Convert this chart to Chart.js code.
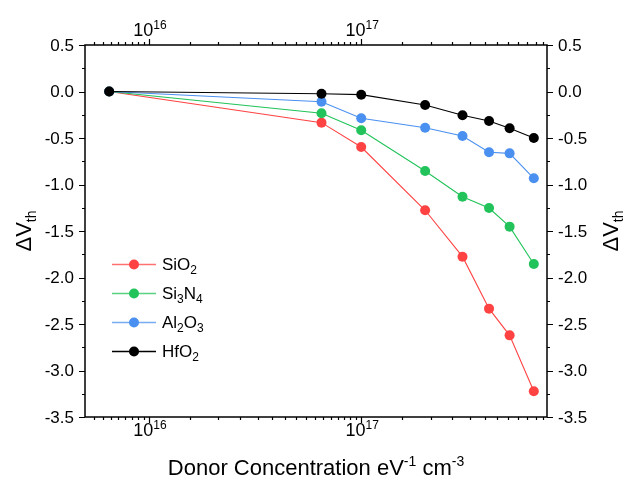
<!DOCTYPE html>
<html>
<head>
<meta charset="utf-8">
<script src="https://cdn.jsdelivr.net/npm/chart.js@4.4.1/dist/chart.umd.min.js"></script>
<style>
  html, body { margin: 0; padding: 0; background: #fff; }
  canvas { display: block; }
</style>
</head>
<body>
<canvas id="chart" width="624" height="480"></canvas>
<script>
// Donor concentration (eV^-1 cm^-3) and threshold-voltage shift per gate dielectric
const donorConc = [6.5e15, 6.5e16, 1e17, 2e17, 3e17, 4e17, 5e17, 6.5e17];
const dVthSiO2  = [0, -0.335, -0.597, -1.277, -1.776, -2.335, -2.622, -3.224];
const dVthSi3N4 = [0, -0.234, -0.417, -0.855, -1.131, -1.253, -1.453, -1.855];
const dVthAl2O3 = [0, -0.110, -0.288, -0.389, -0.478, -0.654, -0.665, -0.933];
const dVthHfO2  = [0, -0.024, -0.034, -0.145, -0.256, -0.317, -0.396, -0.500];

const seriesNames  = ['SiO2', 'Si3N4', 'Al2O3', 'HfO2'];
const seriesColors = ['#ff4343', '#22c35a', '#4a90f0', '#000000'];

const xRange = [5e15, 7.5e17];
const yRange = [-3.5, 0.5];
const xMajorTicks = [1e16, 1e17];
const yMajorTicks = [0.5, 0.0, -0.5, -1.0, -1.5, -2.0, -2.5, -3.0, -3.5];

const FONT = '"Liberation Sans", Arial, Helvetica, sans-serif';

// Draw a run of text pieces: {t, size, dy}; returns total width
function richWidth(ctx, parts) {
  let w = 0;
  for (const p of parts) { ctx.font = p.size + 'px ' + FONT; w += ctx.measureText(p.t).width; }
  return w;
}
function drawRich(ctx, parts, x, y, align) {
  const w = richWidth(ctx, parts);
  let cx = align === 'center' ? x - w / 2 : align === 'right' ? x - w : x;
  ctx.textAlign = 'left';
  ctx.textBaseline = 'alphabetic';
  for (const p of parts) {
    ctx.font = p.size + 'px ' + FONT;
    ctx.fillText(p.t, cx, y + (p.dy || 0));
    cx += ctx.measureText(p.t).width;
  }
}
// Chemical formula: digits become subscripts
function formulaParts(name, size) {
  const parts = [];
  for (const ch of name) {
    if (/[0-9]/.test(ch)) parts.push({ t: ch, size: Math.round(size * 0.68), dy: 4 });
    else parts.push({ t: ch, size: size, dy: 0 });
  }
  return parts;
}
function powParts(exp, size) {
  return [{ t: '10', size: size, dy: 0 }, { t: String(exp), size: Math.round(size * 0.65), dy: -7 }];
}

// Origin-style log minor ticks: 15 evenly spaced values inside each decade
function logMinorTicks(min, max) {
  const out = [];
  for (let e = Math.floor(Math.log10(min)); e <= Math.ceil(Math.log10(max)); e++) {
    const base = Math.pow(10, e);
    for (let k = 1; k <= 15; k++) {
      const v = base * (1 + k * 9 / 16);
      if (v > min && v < max) out.push(v);
    }
  }
  return out;
}

const axesPlugin = {
  id: 'frameAxes',
  afterDatasetsDraw(chart) {
    const ctx = chart.ctx;
    const xs = chart.scales.x, ys = chart.scales.y;
    const a = chart.chartArea;
    const L = Math.round(a.left), R = Math.round(a.right), T = Math.round(a.top), B = Math.round(a.bottom);
    ctx.save();
    ctx.strokeStyle = '#000';
    ctx.fillStyle = '#000';

    // frame
    ctx.lineWidth = 1.5;
    ctx.strokeRect(L, T, R - L, B - T);

    // ticks
    ctx.lineWidth = 1.2;
    const major = 6, minor = 3;
    ctx.beginPath();
    for (const v of xMajorTicks) {
      const px = Math.round(xs.getPixelForValue(v)) + 0.5;
      ctx.moveTo(px, B); ctx.lineTo(px, B + major);
      ctx.moveTo(px, T); ctx.lineTo(px, T - major);
    }
    for (const v of logMinorTicks(xRange[0], xRange[1])) {
      const px = Math.round(xs.getPixelForValue(v)) + 0.5;
      ctx.moveTo(px, B); ctx.lineTo(px, B + minor);
      ctx.moveTo(px, T); ctx.lineTo(px, T - minor);
    }
    for (const v of yMajorTicks) {
      const py = Math.round(ys.getPixelForValue(v)) + 0.5;
      ctx.moveTo(L, py); ctx.lineTo(L - major, py);
      ctx.moveTo(R, py); ctx.lineTo(R + major, py);
    }
    for (let i = 0; i < yMajorTicks.length - 1; i++) {
      const v = (yMajorTicks[i] + yMajorTicks[i + 1]) / 2;
      const py = Math.round(ys.getPixelForValue(v)) + 0.5;
      ctx.moveTo(L, py); ctx.lineTo(L - minor, py);
      ctx.moveTo(R, py); ctx.lineTo(R + minor, py);
    }
    ctx.stroke();

    // y tick labels, both sides
    ctx.font = '17px ' + FONT;
    ctx.textBaseline = 'middle';
    for (const v of yMajorTicks) {
      const py = ys.getPixelForValue(v);
      const s = v.toFixed(1);
      ctx.textAlign = 'right';
      ctx.fillText(s, L - 11, py + 1);
      ctx.textAlign = 'left';
      ctx.fillText(s, R + 11, py + 1);
    }

    // x tick labels, bottom and top
    for (const v of xMajorTicks) {
      const px = xs.getPixelForValue(v);
      const e = Math.round(Math.log10(v));
      drawRich(ctx, powParts(e, 18), px + 1, B + 19, 'center');
      drawRich(ctx, powParts(e, 18), px + 1, T - 9, 'center');
    }

    // x axis title
    const tsize = 22, ssize = 14;
    drawRich(ctx, [
      { t: 'Donor Concentration eV', size: tsize },
      { t: '-1', size: ssize, dy: -9 },
      { t: ' cm', size: tsize },
      { t: '-3', size: ssize, dy: -9 }
    ], (L + R) / 2, B + 58, 'center');

    // y axis titles (rotated), left and right
    const yTitle = [
      { t: '\u0394V', size: tsize },
      { t: 'th', size: ssize, dy: 5 }
    ];
    for (const bx of [L - 54, R + 71]) {
      ctx.save();
      ctx.translate(bx, (T + B) / 2);
      ctx.rotate(-Math.PI / 2);
      drawRich(ctx, yTitle, 0, 0, 'center');
      ctx.restore();
    }

    // legend
    const lx0 = 112, lx1 = 156, tx = 162;
    const rowY = [264, 293, 322, 351];
    seriesNames.forEach((name, i) => {
      const y = rowY[i];
      ctx.save();
      ctx.globalAlpha = i === 3 ? 1 : 0.75;
      ctx.strokeStyle = seriesColors[i];
      ctx.lineWidth = 1.5;
      ctx.beginPath();
      ctx.moveTo(lx0, y + 0.5); ctx.lineTo(lx1, y + 0.5);
      ctx.stroke();
      ctx.restore();
      ctx.fillStyle = seriesColors[i];
      ctx.beginPath();
      ctx.arc((lx0 + lx1) / 2, y + 0.5, 5, 0, Math.PI * 2);
      ctx.fill();
      ctx.fillStyle = '#000';
      drawRich(ctx, formulaParts(name, 17), tx, y + 6, 'left');
    });

    ctx.restore();
  }
};

const seriesValues = [dVthSiO2, dVthSi3N4, dVthAl2O3, dVthHfO2];
const datasets = seriesNames.map((name, i) => ({
  label: name,
  data: donorConc.map((x, j) => ({ x: x, y: seriesValues[i][j] })),
  borderColor: seriesColors[i],
  backgroundColor: seriesColors[i],
  pointBackgroundColor: seriesColors[i],
  pointBorderWidth: 0,
  pointRadius: 5,
  borderWidth: 1.1,
  tension: 0,
  clip: false,
  order: seriesNames.length - i
}));

new Chart(document.getElementById('chart').getContext('2d'), {
  type: 'line',
  data: { datasets: datasets },
  options: {
    responsive: false,
    animation: false,
    layout: { padding: { left: 85, right: 77, top: 45, bottom: 63 } },
    plugins: { legend: { display: false }, tooltip: { enabled: false } },
    scales: {
      x: { type: 'logarithmic', min: xRange[0], max: xRange[1], display: false },
      y: { type: 'linear', min: yRange[0], max: yRange[1], display: false }
    }
  },
  plugins: [axesPlugin]
});
</script>
</body>
</html>
